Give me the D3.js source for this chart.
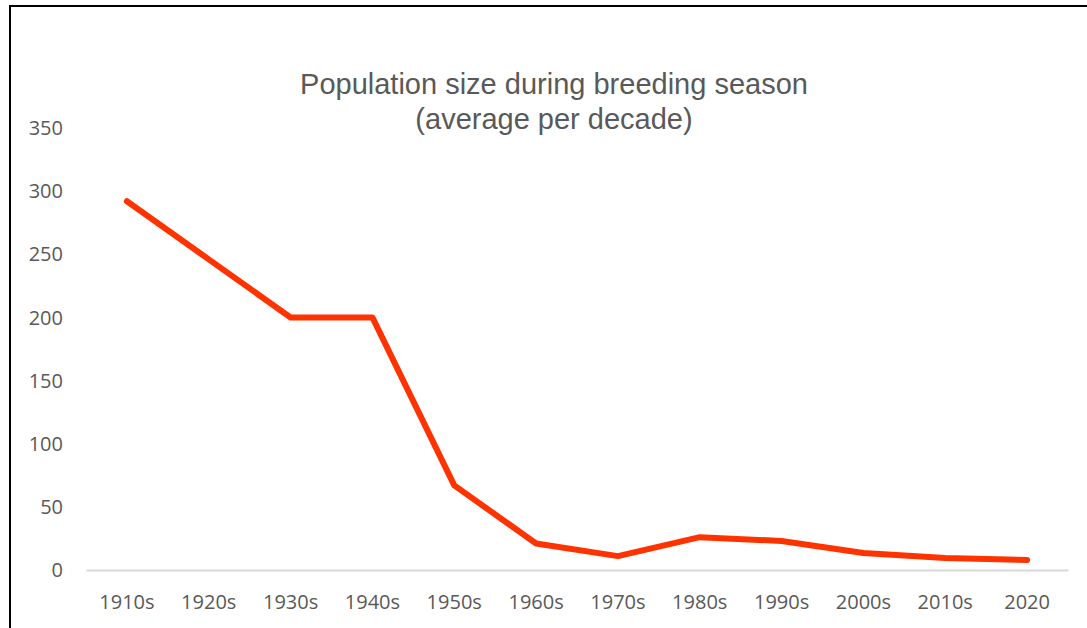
<!DOCTYPE html>
<html>
<head>
<meta charset="utf-8">
<script src="https://cdn.jsdelivr.net/npm/d3@7"></script>
<style>
  body { margin: 0; background: #fff; }
  svg { display: block; }
</style>
</head>
<body>
<svg id="chart" width="1087" height="628"></svg>
<script>
// decades and average breeding population
var decades = ['1910s', '1920s', '1930s', '1940s', '1950s', '1960s',
               '1970s', '1980s', '1990s', '2000s', '2010s', '2020'];
var population = [292, 246, 200, 200, 67, 21, 11, 26, 23, 13.5, 9.5, 8];
var yTicks = [0, 50, 100, 150, 200, 250, 300, 350];
var titleLines = ['Population size during breeding season', '(average per decade)'];

var svg = d3.select('#chart');

// frame round the chart (runs off the picture at right and bottom)
svg.append('rect')
    .attr('x', 10).attr('y', 6)
    .attr('width', 1100).attr('height', 640)
    .style('fill', 'none')
    .style('stroke', '#000')
    .style('stroke-width', '2px');

var x = d3.scaleBand().domain(decades).range([86, 1068]);
var y = d3.scaleLinear().domain([0, 350]).range([570, 128]);

// y tick labels, no grid
svg.append('g')
    .selectAll('text')
    .data(yTicks)
    .enter()
    .append('text')
    .attr('x', 63)
    .attr('y', function(d) { return y(d); })
    .attr('dy', '0.36em')
    .attr('text-anchor', 'end')
    .style('font-family', '"Open Sans", sans-serif')
    .style('font-size', '20px')
    .style('fill', '#595959')
    .text(function(d) { return d; });

// category axis
var xAxis = svg.append('g')
    .attr('transform', 'translate(0,' + y(0) + ')')
    .call(d3.axisBottom(x).tickSize(0).tickPadding(0));
xAxis.select('.domain')
    .attr('stroke', '#d9d9d9')
    .attr('stroke-width', 2);
xAxis.selectAll('text')
    .attr('y', 39)
    .attr('dy', 0)
    .style('font-family', '"Open Sans", sans-serif')
    .style('font-size', '20px')
    .style('fill', '#595959');

// population line
var line = d3.line()
    .x(function(d, i) { return x(decades[i]) + x.bandwidth() / 2; })
    .y(function(d) { return y(d); });

svg.append('path')
    .datum(population)
    .attr('d', line)
    .style('fill', 'none')
    .style('stroke', '#ff3300')
    .style('stroke-width', '6px')
    .style('stroke-linejoin', 'round')
    .style('stroke-linecap', 'round');

// title
svg.append('g')
    .selectAll('text')
    .data(titleLines)
    .enter()
    .append('text')
    .attr('x', 554)
    .attr('y', function(d, i) { return 94 + i * 35; })
    .attr('text-anchor', 'middle')
    .style('font-family', '"Liberation Sans", Arial, sans-serif')
    .style('font-size', '29px')
    .style('fill', '#595959')
    .text(function(d) { return d; });
</script>
</body>
</html>
